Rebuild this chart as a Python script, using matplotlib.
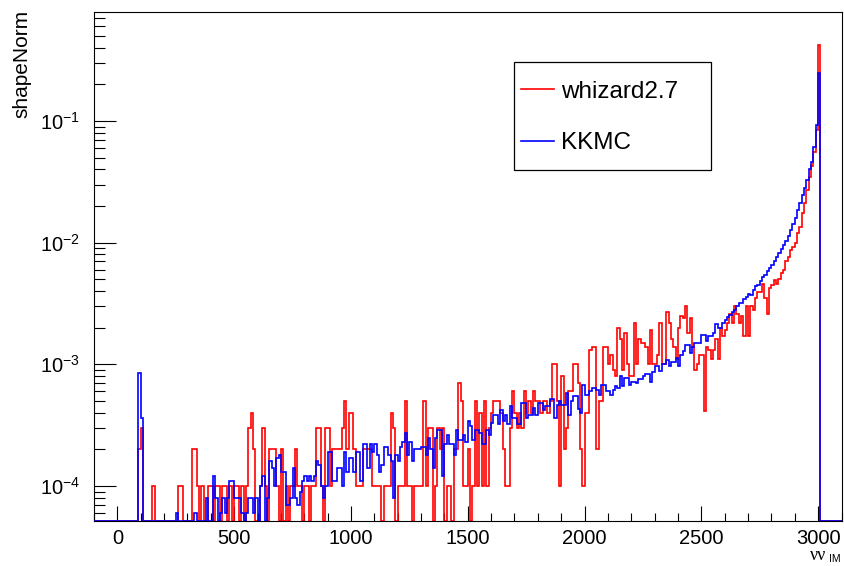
import numpy as np
import matplotlib
matplotlib.use("Agg")
import matplotlib.pyplot as plt
from matplotlib.ticker import MultipleLocator, LogLocator, NullFormatter
from matplotlib.patches import Rectangle
from matplotlib.lines import Line2D

plt.rcParams['font.family'] = ['Liberation Sans', 'DejaVu Sans']

# histogram: 320 bins of width 10 from -100 to 3100, data given for bins 0..3010
x_lo, x_hi, bin_w = -100, 3100, 10

# whizard2.7, in units of 1e-4 (one value per 10-wide bin, starting at 0)
whizard_e4 = [
    0, 0, 0, 0, 0, 0, 0, 0, 0, 2,
    3, 0, 0, 0, 0, 1, 0, 0, 0, 0,
    0, 0, 0, 0, 0, 0, 1, 1, 0, 0,
    0, 0, 2, 2, 1, 0, 1, 0, 0, 1,
    1, 0, 1, 1, 0, 1, 1, 0, 1, 0,
    1, 1, 0, 1, 0, 1, 3, 4, 2, 0,
    0, 1, 3, 1, 0, 2, 2, 2, 1, 0,
    2, 0, 1, 0, 1, 1, 2, 1, 1, 0,
    1, 1, 0, 1, 1, 3, 3, 1, 0, 3,
    3, 1, 2, 2, 2, 2, 3, 5, 2, 4,
    4, 2, 1, 1, 1, 2, 2, 2, 2, 1,
    1, 1, 1, 0, 1, 1, 1, 4, 3, 0,
    1, 1, 1, 5, 1, 1, 0, 1, 1, 1,
    1, 5, 1, 3, 3, 0, 1, 3, 2, 3,
    0, 1, 1, 0, 2, 2, 7, 5, 1, 1,
    2, 0, 1, 5, 1, 4, 1, 5, 1, 3,
    4, 5, 5, 5, 4, 2, 1, 1, 3, 6,
    4, 3, 4, 3, 6, 4, 5, 4, 6, 5,
    5, 4, 5, 5, 4, 5, 10, 10, 5, 1,
    8, 2, 3, 6, 6, 10, 10, 7, 2, 1,
    4, 4, 13, 14, 14, 2, 5, 5, 14, 14,
    10, 12, 9, 8, 20, 16, 9, 18, 10, 8,
    8, 22, 10, 16, 15, 15, 14, 10, 19, 10,
    10, 12, 22, 10, 10, 27, 22, 16, 14, 11,
    20, 25, 24, 30, 18, 24, 14, 9, 10, 12,
    12, 4.1, 14, 13, 11, 13, 16, 11, 20, 17,
    19, 22, 26, 22, 30, 26, 22, 25, 17, 30,
    17, 30, 28, 35, 39, 39, 46, 35, 26, 42,
    45, 49, 46, 50, 56, 60, 70, 76, 87, 92,
    99, 120, 135, 175, 210, 270, 345, 430, 560, 840,
    4200,
]

# KKMC, in units of 1e-5
kkmc_e5 = [
    0, 0, 0, 0, 0, 0, 0, 0, 0, 85,
    36, 0, 0, 0, 0, 0, 0, 0, 0, 0,
    0, 0, 0, 0, 0, 6, 0, 0, 0, 0,
    0, 0, 0, 6, 0, 0, 0, 0, 8, 0,
    3, 12, 8, 0, 6, 8, 6, 8, 11, 11,
    8, 8, 8, 6, 0, 6, 8, 8, 6, 8,
    0, 10, 12, 0, 8, 16, 14, 10, 17, 18,
    13, 13, 7, 7, 8, 14, 8, 7, 9, 11,
    12, 11, 12, 11, 12, 16, 15, 10, 8, 10,
    19, 19, 11, 11, 14, 14, 10, 19, 13, 17,
    17, 13, 19, 19, 11, 22, 22, 14, 22, 19,
    22, 18, 13, 15, 21, 21, 18, 16, 8, 18,
    16, 21, 23, 27, 18, 23, 16, 20, 20, 20,
    21, 21, 18, 25, 20, 14, 25, 29, 29, 12,
    22, 26, 22, 22, 18, 29, 24, 24, 26, 23,
    34, 31, 24, 29, 29, 27, 22, 22, 29, 26,
    33, 38, 38, 32, 42, 34, 38, 32, 45, 36,
    36, 32, 32, 48, 48, 36, 38, 38, 44, 38,
    48, 48, 42, 45, 45, 52, 52, 36, 46, 50,
    46, 46, 58, 38, 50, 55, 55, 43, 40, 67,
    56, 56, 60, 64, 64, 62, 56, 67, 67, 60,
    60, 56, 62, 66, 64, 80, 66, 77, 77, 68,
    72, 72, 70, 76, 76, 80, 84, 84, 72, 86,
    96, 96, 88, 100, 100, 108, 96, 104, 104, 112,
    96, 120, 128, 145, 145, 123, 140, 150, 150, 150,
    175, 175, 155, 170, 170, 180, 215, 200, 200, 220,
    230, 245, 255, 270, 280, 300, 320, 320, 345, 360,
    375, 370, 410, 440, 450, 480, 520, 540, 590, 620,
    660, 710, 760, 820, 880, 950, 1040, 1130, 1270, 1420,
    1600, 1850, 2100, 2450, 2800, 3300, 4000, 4600, 6100, 9300,
    25000,
]

y_min, y_max = 5.15e-5, 0.787

edges = np.arange(x_lo, x_hi + bin_w, bin_w)
n_before = int((0 - x_lo) / bin_w)


def full_hist(vals, scale):
    h = np.zeros(len(edges) - 1)
    h[n_before:n_before + len(vals)] = np.array(vals) * scale
    # ROOT draws empty / tiny bins on the frame bottom in log scale
    return np.clip(h, y_min, None)


red = full_hist(whizard_e4, 1e-4)
blue = full_hist(kkmc_e5, 1e-5)

W, H = 844, 566
fig = plt.figure(figsize=(W / 100, H / 100), dpi=100)
ax = fig.add_axes([94 / W, 1 - 521 / H, (841.5 - 94) / W, (521 - 12) / H])

ax.stairs(red, edges, color='#ff0000', lw=1.2, zorder=3)
ax.stairs(blue, edges, color='#0000ff', lw=1.2, zorder=3.1)

ax.set_yscale('log')
ax.set_xlim(x_lo, x_hi)
ax.set_ylim(y_min, y_max)

ax.xaxis.set_major_locator(MultipleLocator(500))
ax.xaxis.set_minor_locator(MultipleLocator(100))
ax.yaxis.set_major_locator(LogLocator(base=10, numticks=10))
ax.yaxis.set_minor_locator(LogLocator(base=10, subs=np.arange(2, 10), numticks=20))
ax.yaxis.set_minor_formatter(NullFormatter())

ax.tick_params(axis='x', which='major', direction='in', length=10.8, width=0.8,
               labelsize=14.5, pad=6, top=False)
ax.tick_params(axis='x', which='minor', direction='in', length=5.5, width=0.8, top=False)
ax.tick_params(axis='y', which='major', direction='in', length=15.5, width=0.8,
               labelsize=14.5, pad=10, right=False)
ax.tick_params(axis='y', which='minor', direction='in', length=7.8, width=0.8, right=False)
for s in ax.spines.values():
    s.set_linewidth(0.8)

fig.text(22 / W, 1 - 10 / H, 'shapeNorm', rotation=90, ha='center', va='top', fontsize=15)
fig.text(826 / W, 1 - 560 / H, 'νν', ha='right', va='baseline', fontsize=13,
         family=['Liberation Serif', 'DejaVu Serif'])
fig.text(829 / W, 1 - 562 / H, 'IM', ha='left', va='baseline', fontsize=7.5)

# legend box (ROOT TLegend style)
fig.add_artist(Rectangle((514 / W, 1 - 170 / H), (711 - 514) / W, (170 - 62) / H,
                         transform=fig.transFigure, fill=False, edgecolor='black', lw=0.9))
handles = [Line2D([], [], color='#ff0000', lw=1.2), Line2D([], [], color='#0000ff', lw=1.2)]
fig.legend(handles, ['whizard2.7', 'KKMC'], loc='upper left',
           bbox_to_anchor=(521 / W, 1 - 80.5 / H), frameon=False, fontsize=17.5,
           borderpad=0, borderaxespad=0, handlelength=1.36, handletextpad=0.29,
           labelspacing=1.23)

fig.savefig('out.png', dpi=100)
